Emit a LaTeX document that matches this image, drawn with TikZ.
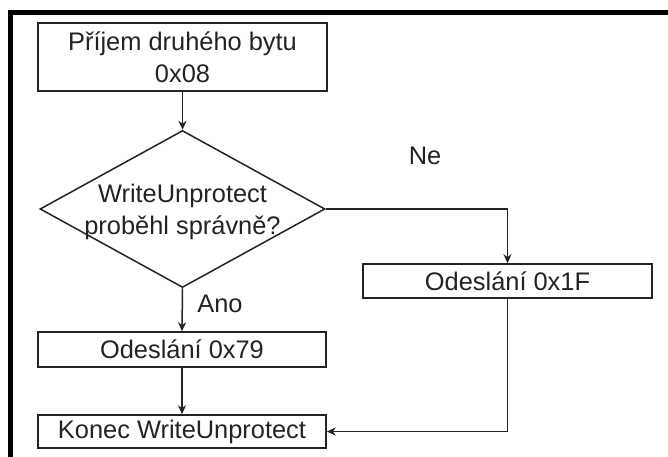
\documentclass[tikz,border=0pt]{standalone}
\usepackage{fontspec}
\setmainfont{Liberation Sans}
\usetikzlibrary{shapes.geometric,arrows.meta}
\definecolor{ink}{RGB}{35,35,35}
\begin{document}
\begin{tikzpicture}[x=1bp,y=-1bp,
  every node/.style={font=\fontsize{25.5}{32}\selectfont, text=ink},
  procbox/.style={draw=ink, line width=1.5bp, rectangle, inner sep=0pt, align=center},
  decision/.style={draw=ink, line width=1.5bp, diamond, inner sep=0pt},
  flow/.style={draw=ink, line width=1.5bp, -{Stealth[length=9bp,width=8bp]}}]
  \useasboundingbox (0,0) rectangle (668,457);
  % heavy frame on the top and left
  \fill[black] (8,10) rectangle (668,15);
  \fill[black] (8,10) rectangle (13,457);

  \node[procbox, minimum width=289bp, minimum height=68bp] (recv) at (182.5,57)
       {Příjem druhého bytu\\0x08};
  \node[decision, minimum width=285bp, minimum height=157bp,
        label={[align=center, font=\fontsize{25.5}{32}\selectfont, text=ink, yshift=-3bp]center:WriteUnprotect\\proběhl správně?}]
       (check) at (182.5,209) {};
  \node[procbox, minimum width=288bp, minimum height=35bp] (ok) at (182,349.5) {Odeslání 0x79};
  \node[procbox, minimum width=289bp, minimum height=34bp] (fail) at (507.5,281) {Odeslání 0x1F};
  \node[procbox, minimum width=288bp, minimum height=33bp] (done) at (182,431.5) {Konec WriteUnprotect};

  \node (yes) at (220,304) {Ano};
  \node (no) at (425,156) {Ne};

  \draw[flow] (recv.south) -- (check.north);
  \draw[flow] (check.south) -- (ok.north);
  \draw[flow] (ok.south) -- (done.north);
  \draw[flow] (check.east) -| (fail.north);
  \draw[flow] (fail.south) |- (done.east);
\end{tikzpicture}
\end{document}
